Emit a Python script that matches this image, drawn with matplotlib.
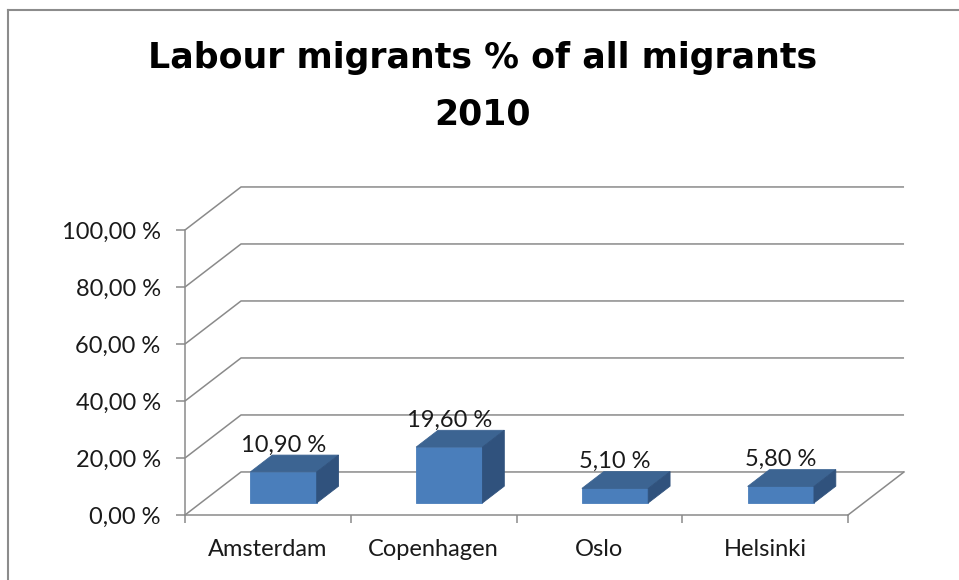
import matplotlib
matplotlib.use("Agg")
import matplotlib.pyplot as plt
from matplotlib.patches import Polygon
from matplotlib.lines import Line2D

# ---- data ----
categories = ["Amsterdam", "Copenhagen", "Oslo", "Helsinki"]
values = [10.90, 19.60, 5.10, 5.80]
yticks = [0, 20, 40, 60, 80, 100]
title_lines = ["Labour migrants % of all migrants", "2010"]

def pct(v):
    return f"{v:.2f}".replace(".", ",") + " %"

# ---- oblique 3D geometry (in data units) ----
DX = 0.338     # depth offset in category units
DY = 15.1      # depth offset in percent units
W = 0.40       # bar width
F0, F1 = 0.28, 0.67  # bar front/back depth fractions

plt.rcParams['font.family'] = ['Lato', 'DejaVu Sans']
fig = plt.figure(figsize=(9.59, 5.80), dpi=100)

n = len(categories)
px_per_x = 165.75
px_per_y = 2.85
left = 185 / 959
bottom = (580 - 515) / 580
width = (n + DX) * px_per_x / 959
height = (100 + DY) * px_per_y / 580
ax = fig.add_axes([left, bottom, width, height])
ax.set_xlim(0, n + DX)
ax.set_ylim(0, 100 + DY)
ax.patch.set_visible(False)

grid_col = "#8a8a8a"
# walls / gridlines
for v in yticks:
    ax.plot([0, DX, n + DX], [v, v + DY, v + DY], color=grid_col, lw=1.1,
            clip_on=False, zorder=1, solid_capstyle='butt')
ax.plot([n, n + DX], [0, DY], color=grid_col, lw=1.1, clip_on=False, zorder=1)

# spines
for s in ["top", "right"]:
    ax.spines[s].set_visible(False)
ax.spines["left"].set_bounds(0, 100)
ax.spines["bottom"].set_bounds(0, n)
for s in ["left", "bottom"]:
    ax.spines[s].set_color(grid_col)
    ax.spines[s].set_linewidth(1.1)

fs = 17
ax.set_yticks(yticks)
ax.set_yticklabels([pct(v) for v in yticks])
ax.tick_params(axis='y', direction='out', length=6.5, width=1.1, color=grid_col,
               pad=11, labelsize=fs, labelcolor="#1a1a1a")
ax.set_xticks(range(n + 1))
ax.set_xticklabels([""] * (n + 1))
ax.set_xticks([i + 0.5 for i in range(n)], minor=True)
ax.set_xticklabels(categories, minor=True)
ax.tick_params(axis='x', which='major', direction='out', length=5.8, width=1.1,
               color=grid_col)
ax.tick_params(axis='x', which='minor', length=0, pad=17, labelsize=fs,
               labelcolor="#1a1a1a")

# bars
c_front, c_top, c_side = "#4a7ebb", "#3c6492", "#30527d"
d = F1 - F0
b = F0 * DY
for i, v in enumerate(values):
    x0 = i + 0.5 - W / 2 + F0 * DX
    front = [(x0, b), (x0 + W, b), (x0 + W, b + v), (x0, b + v)]
    top = [(x0, b + v), (x0 + W, b + v), (x0 + W + d * DX, b + v + d * DY),
           (x0 + d * DX, b + v + d * DY)]
    side = [(x0 + W, b), (x0 + W + d * DX, b + d * DY),
            (x0 + W + d * DX, b + d * DY + v), (x0 + W, b + v)]
    for poly, c in [(front, c_front), (top, c_top), (side, c_side)]:
        ax.add_patch(Polygon(poly, closed=True, facecolor=c, edgecolor=c,
                             lw=0.6, zorder=3, clip_on=False))
    ax.text(x0 + W / 2, b + v + d * DY + 1.2, pct(v), ha='center', va='baseline',
            fontsize=fs, color="#1a1a1a", zorder=4)

# title (two lines)
for line, ybase in zip(title_lines, [68, 125]):
    fig.text(0.5 + 3 / 959, 1 - ybase / 580, line, ha='center', va='baseline',
             fontsize=25, fontweight='bold', color="#000000",
             family=['DejaVu Sans'])

# chart frame
fc = "#8c8c8c"
fig.add_artist(Line2D([8 / 959, 1.0], [1 - 10 / 580, 1 - 10 / 580], color=fc,
                      lw=1.5, transform=fig.transFigure))
fig.add_artist(Line2D([8 / 959, 8 / 959], [0, 1 - 10 / 580], color=fc,
                      lw=1.5, transform=fig.transFigure))

fig.savefig("out.png", dpi=100)
